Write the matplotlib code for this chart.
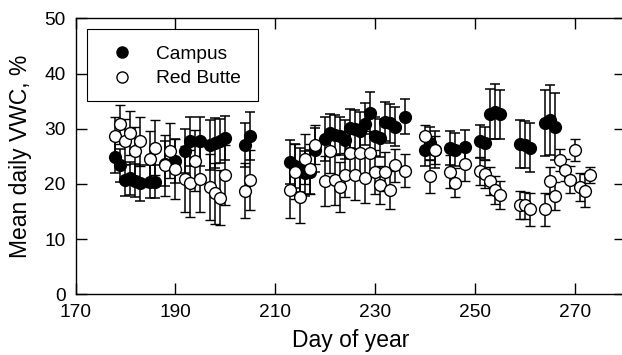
import matplotlib
matplotlib.use("Agg")
import matplotlib.pyplot as plt
from matplotlib.patches import Rectangle

plt.rcParams['font.family'] = ['Liberation Sans', 'DejaVu Sans']

# Campus site: day of year, mean daily VWC (%), error (+/-)
campus_day = [178, 179, 180, 181, 182, 183, 185, 186, 188, 190, 192, 193, 195, 197,
              198, 199, 200, 204, 205, 213, 214, 215, 216, 217, 218, 220, 221, 222,
              223, 224, 225, 226, 227, 228, 229, 230, 231, 232, 233, 234, 236, 240,
              241, 242, 245, 246, 248, 251, 252, 253, 254, 255, 259, 260, 261, 264,
              265, 266]
campus_vwc = [24.9, 23.4, 20.7, 21.0, 20.6, 20.2, 20.4, 20.4, 23.7, 24.2, 25.9, 27.7, 27.7, 27.1,
              27.4, 27.8, 28.3, 27.1, 28.7, 24.0, 23.2, 22.5, 21.9, 22.2, 26.2, 28.1, 29.2, 28.9,
              28.7, 28.0, 30.1, 29.9, 29.5, 30.8, 32.9, 28.6, 28.3, 31.3, 31.0, 30.4, 32.2, 26.2,
              27.4, 26.2, 26.5, 26.2, 26.7, 27.7, 27.4, 32.7, 33.1, 32.6, 27.2, 27.1, 26.6, 31.0,
              31.6, 30.4]
campus_err = [3.0, 3.0, 2.8, 3.0, 3.0, 3.2, 3.0, 3.0, 4.0, 4.0, 4.0, 4.5, 4.5, 4.5,
              4.5, 4.0, 4.0, 4.0, 4.3, 4.0, 4.0, 4.0, 4.0, 4.0, 4.0, 4.0, 3.5, 3.5,
              3.5, 3.5, 3.5, 3.5, 3.5, 3.8, 3.8, 3.5, 3.5, 3.5, 3.5, 3.5, 3.2, 3.0,
              3.0, 3.3, 3.0, 3.0, 3.0, 3.0, 3.0, 4.5, 5.0, 4.5, 4.3, 4.3, 4.5, 6.0,
              6.3, 6.0]

# Red Butte site
rb_day = [178, 179, 180, 181, 182, 183, 185, 186, 188, 189, 190, 192, 193, 194,
          195, 197, 198, 199, 200, 204, 205, 213, 214, 215, 216, 217, 218, 220,
          221, 222, 223, 224, 225, 226, 227, 228, 229, 230, 231, 232, 233, 234,
          236, 240, 241, 242, 245, 246, 248, 251, 252, 253, 254, 255, 259, 260,
          261, 264, 265, 266, 267, 268, 269, 270, 271, 272, 273]
rb_vwc = [28.6, 30.8, 27.7, 29.2, 25.9, 27.7, 24.5, 26.6, 23.4, 26.0, 22.7, 20.9, 20.1, 24.2,
          20.9, 19.5, 18.3, 17.5, 21.6, 18.8, 20.7, 18.9, 22.2, 17.6, 24.5, 22.7, 27.1, 20.5,
          25.9, 20.7, 19.5, 21.6, 25.6, 21.6, 25.6, 21.0, 25.6, 22.1, 19.8, 22.2, 18.9, 23.4,
          22.4, 28.7, 21.4, 26.2, 22.2, 20.2, 23.6, 22.4, 21.8, 20.5, 18.9, 18.0, 16.2, 16.1,
          15.4, 15.4, 20.6, 17.8, 24.3, 22.5, 20.8, 26.2, 19.4, 18.8, 21.6]
rb_err = [3.5, 3.5, 4.0, 4.0, 4.5, 4.5, 5.0, 5.0, 5.5, 5.0, 5.5, 6.0, 6.0, 5.5,
          6.0, 6.0, 5.5, 5.0, 5.5, 5.0, 5.5, 5.0, 5.0, 4.7, 4.5, 4.5, 3.5, 4.5,
          4.0, 4.5, 4.5, 4.0, 4.0, 4.5, 4.0, 4.5, 4.0, 4.0, 3.5, 3.5, 3.5, 3.0,
          3.0, 2.0, 3.0, 2.5, 3.0, 2.6, 3.0, 2.5, 2.5, 2.5, 2.5, 2.5, 2.5, 2.5,
          3.0, 3.0, 2.5, 2.5, 2.0, 2.0, 2.5, 2.0, 2.5, 3.0, 1.5]

x_ticks = [170, 190, 210, 230, 250, 270]
y_ticks = [0, 10, 20, 30, 40, 50]
series_names = ['Campus', 'Red Butte']

fig = plt.figure(figsize=(6.22, 3.55), dpi=100)
# right spine sits just past the edge of the image, as in the original
ax = fig.add_axes([0.1214, 0.1707, 0.8834, 0.7778])

ax.errorbar(campus_day, campus_vwc, yerr=campus_err, fmt='o', color='black',
            mfc='black', mec='black', ms=8.5, elinewidth=1.1, capsize=3.8,
            capthick=1.1, zorder=2)
ax.errorbar(rb_day, rb_vwc, yerr=rb_err, fmt='o', color='black',
            mfc='white', mec='black', mew=1.0, ms=8.5, elinewidth=1.1, capsize=3.8,
            capthick=1.1, zorder=3)

ax.set_xlim(170, 280)
ax.set_ylim(0, 50)
ax.set_xticks(x_ticks)
ax.set_yticks(y_ticks)
ax.tick_params(direction='in', length=8, width=1.0, top=True, right=True,
               labelsize=13.8, pad=7)
for s in ax.spines.values():
    s.set_linewidth(1.0)

ax.set_xlabel('Day of year', fontsize=16.5, labelpad=6)
ax.set_ylabel('Mean daily VWC, %', fontsize=16.5, labelpad=9)

# legend drawn by hand so the box matches the original size
box = Rectangle((0.021, 0.7005), 0.311, 0.2607, transform=ax.transAxes,
                facecolor='white', edgecolor='black', linewidth=0.8, zorder=5)
ax.add_patch(box)
row_y = [0.877, 0.7885]
face = ['black', 'white']
for name, fc, yy in zip(series_names, face, row_y):
    ax.plot([0.0846], [yy], marker='o', ls='none', ms=8, mfc=fc, mec='black',
            mew=1.0, transform=ax.transAxes, zorder=6, clip_on=False)
    ax.text(0.1465, yy, name, transform=ax.transAxes, fontsize=13.8,
            va='center_baseline', ha='left', zorder=6)

fig.savefig('out.png', dpi=100)
